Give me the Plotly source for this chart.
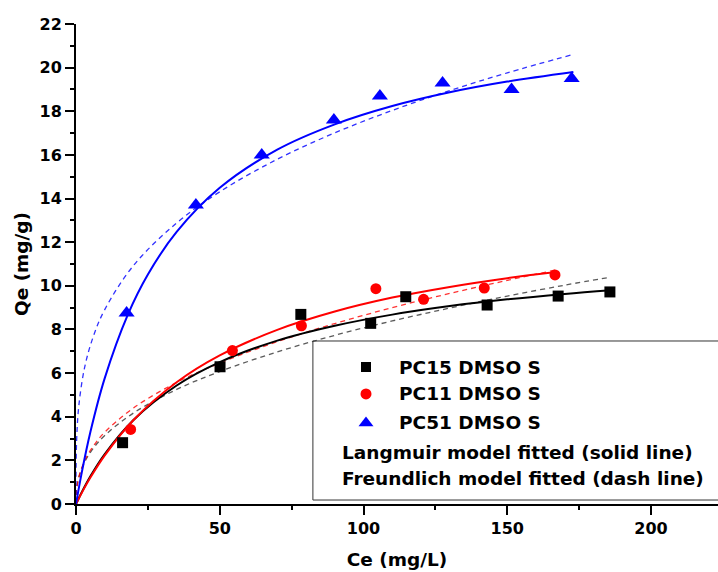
import plotly.graph_objects as go

# ---- measured data points ----
ce_pc15 = [16.2, 50.1, 78.2, 102.5, 114.7, 143.0, 167.7, 185.7]
qe_pc15 = [2.81, 6.29, 8.69, 8.28, 9.50, 9.12, 9.53, 9.72]

ce_pc11 = [19.0, 54.4, 78.4, 104.3, 120.9, 142.0, 166.6]
qe_pc11 = [3.42, 7.03, 8.17, 9.87, 9.38, 9.90, 10.50]

ce_pc51 = [17.6, 41.7, 64.6, 89.7, 105.7, 127.5, 151.5, 172.4]
qe_pc51 = [8.75, 13.70, 16.00, 17.60, 18.70, 19.30, 19.00, 19.50]

# ---- fitted curves ----
# Langmuir (solid)
lang_ce_pc15 = [0, 2, 5, 10, 20, 35, 50, 70, 90, 110, 130, 150, 170, 186]
lang_qe_pc15 = [0, 0.54, 1.27, 2.29, 3.85, 5.43, 6.50, 7.49, 8.17, 8.68, 9.07, 9.38, 9.63, 9.80]
lang_ce_pc11 = [0, 2, 5, 10, 20, 35, 50, 70, 90, 110, 130, 150, 167]
lang_qe_pc11 = [0, 0.51, 1.21, 2.23, 3.85, 5.58, 6.81, 7.98, 8.82, 9.46, 9.95, 10.35, 10.63]
lang_ce_pc51 = [0, 2, 5, 10, 18, 25, 35, 50, 70, 90, 110, 130, 150, 173]
lang_qe_pc51 = [0, 1.44, 3.30, 5.77, 8.67, 10.52, 12.47, 14.49, 16.24, 17.40, 18.24, 18.87, 19.36, 19.80]
# Freundlich (dashed)
freu_ce_pc15 = [0, 0.05, 0.3, 1, 3, 6, 10, 20, 35, 50, 70, 90, 110, 130, 150, 170, 186]
freu_qe_pc15 = [0, 0.36, 0.75, 1.22, 1.92, 2.55, 3.14, 4.17, 5.25, 6.07, 6.97, 7.73, 8.39, 8.98, 9.53, 10.03, 10.40]
freu_ce_pc11 = [0, 0.05, 0.3, 1, 3, 6, 10, 20, 35, 50, 70, 90, 110, 130, 150, 167]
freu_qe_pc11 = [0, 0.36, 0.75, 1.25, 1.98, 2.65, 3.29, 4.40, 5.57, 6.46, 7.44, 8.27, 9.00, 9.65, 10.25, 10.73]
freu_ce_pc51 = [0, 0.05, 0.3, 1, 3, 6, 10, 20, 35, 50, 70, 90, 110, 130, 150, 173]
freu_qe_pc51 = [0, 1.88, 3.18, 4.53, 6.26, 7.67, 8.91, 10.93, 12.88, 14.31, 15.80, 17.01, 18.04, 18.95, 19.76, 20.61]

series_names = ["PC15 DMSO S", "PC11 DMSO S", "PC51 DMSO S"]
note_lines = ["Langmuir model fitted (solid line)", "Freundlich model fitted (dash line)"]

x_ticks = [0, 50, 100, 150, 200]
y_ticks = [0, 2, 4, 6, 8, 10, 12, 14, 16, 18, 20, 22]

BLACK, RED, BLUE = "#000000", "#FF0000", "#0000FF"
FONT = "DejaVu Sans"

fig = go.Figure()

def solid(x, y, c):
    fig.add_trace(go.Scatter(x=x, y=y, mode="lines", line=dict(color=c, width=2, shape="spline"),
                             showlegend=False, hoverinfo="skip"))

def dashed(x, y, c):
    fig.add_trace(go.Scatter(x=x, y=y, mode="lines",
                             line=dict(color=c, width=1.3, dash="5px,4px", shape="spline"),
                             opacity=0.8, showlegend=False, hoverinfo="skip"))

dashed(freu_ce_pc15, freu_qe_pc15, "#333333")
dashed(freu_ce_pc11, freu_qe_pc11, RED)
dashed(freu_ce_pc51, freu_qe_pc51, BLUE)
solid(lang_ce_pc15, lang_qe_pc15, BLACK)
solid(lang_ce_pc11, lang_qe_pc11, RED)
solid(lang_ce_pc51, lang_qe_pc51, BLUE)

fig.add_trace(go.Scatter(x=ce_pc15, y=qe_pc15, mode="markers", name=series_names[0],
                         marker=dict(symbol="square", size=11, color=BLACK), showlegend=False))
fig.add_trace(go.Scatter(x=ce_pc11, y=qe_pc11, mode="markers", name=series_names[1],
                         marker=dict(symbol="circle", size=11, color=RED), showlegend=False))
fig.add_trace(go.Scatter(x=ce_pc51, y=qe_pc51, mode="markers", name=series_names[2],
                         marker=dict(symbol="triangle-up", size=14, color=BLUE), showlegend=False))

# ---- custom legend box (overlay axis in 0..1 paper-like units) ----
key_x = 0.4517
key_rows = [0.2854, 0.2292, 0.1688]
key_syms = [("square", 10, BLACK), ("circle", 11, RED), ("triangle-up", 13, BLUE)]
for yk, (sym, sz, col) in zip(key_rows, key_syms):
    fig.add_trace(go.Scatter(x=[key_x], y=[yk], mode="markers", xaxis="x2", yaxis="y2",
                             marker=dict(symbol=sym, size=sz, color=col),
                             showlegend=False, hoverinfo="skip"))

fig.add_shape(type="rect", xref="paper", yref="paper", x0=0.369, x1=1.06, y0=0.0083, y1=0.3396,
              line=dict(color="#333333", width=1), fillcolor="white", layer="below")

legend_font = dict(family=FONT, size=18.5, color="black", weight="bold")
for yk, name in zip(key_rows, series_names):
    fig.add_annotation(x=0.5, y=yk, xref="paper", yref="paper", text=name, showarrow=False,
                       xanchor="left", yanchor="middle", font=legend_font)
for yk, txt in zip([0.1083, 0.0521], note_lines):
    fig.add_annotation(x=0.4112, y=yk, xref="paper", yref="paper", text=txt, showarrow=False,
                       xanchor="left", yanchor="middle", font=legend_font)

# small extension of x-axis line to the left of the y-axis (Origin style)
fig.add_shape(type="line", xref="paper", yref="paper", x0=-0.015, x1=0, y0=0, y1=0,
              line=dict(color="black", width=2), layer="above")

tick_font = dict(family=FONT, size=16, color="black", weight="bold")
title_font = dict(family=FONT, size=18.5, color="black", weight="bold")

fig.update_layout(
    width=718, height=572,
    margin=dict(l=76, r=0, t=24, b=68, autoexpand=False),
    paper_bgcolor="white", plot_bgcolor="white",
    showlegend=False,
    xaxis=dict(range=[0, 223.3], tickvals=x_ticks, ticktext=[str(v) for v in x_ticks],
               showline=True, linecolor="black", linewidth=2, mirror=False, automargin=False,
               ticks="outside", ticklen=9, tickwidth=2, tickcolor="black",
               minor=dict(ticks="outside", ticklen=4, tickwidth=2, tickcolor="black", dtick=25, tick0=0),
               showgrid=False, zeroline=False, tickfont=tick_font,
               title=dict(text="Ce (mg/L)", font=title_font, standoff=16)),
    yaxis=dict(range=[0, 22], tickvals=y_ticks, ticktext=[str(v) for v in y_ticks],
               showline=True, linecolor="black", linewidth=2, mirror=False, automargin=False,
               ticks="outside", ticklen=9, tickwidth=2, tickcolor="black",
               minor=dict(ticks="outside", ticklen=4, tickwidth=2, tickcolor="black", dtick=1, tick0=0),
               showgrid=False, zeroline=False, tickfont=tick_font,
               title=dict(text="Qe (mg/g)", font=title_font, standoff=6)),
    xaxis2=dict(overlaying="x", range=[0, 1], visible=False),
    yaxis2=dict(overlaying="y", range=[0, 1], visible=False),
)

# remove the default 8px page margin so the 718x572 figure fills the window exactly
fig.write_html("out.html", config={"displayModeBar": False},
               post_script="document.body.style.margin='0px';")
